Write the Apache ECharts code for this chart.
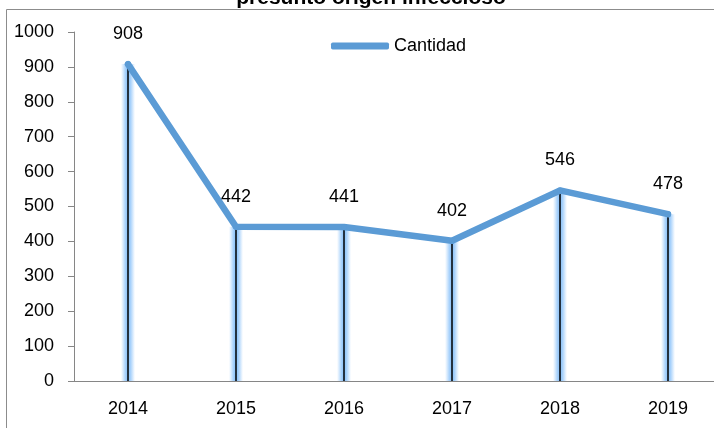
<!DOCTYPE html>
<html>
<head>
<meta charset="utf-8">
<script src="https://cdn.jsdelivr.net/npm/echarts@6/dist/echarts.min.js"></script>
<style>html,body{margin:0;padding:0;background:#fff;overflow:hidden;width:714px;height:428px}#c{width:740px;height:428px}</style>
</head>
<body>
<div id="c"></div>
<script>
const titleText = 'presunto origen infeccioso';
const seriesName = 'Cantidad';
const categories = ['2014', '2015', '2016', '2017', '2018', '2019'];
const values = [908, 442, 441, 402, 546, 478];
const yMin = 0, yMax = 1000, yInterval = 100;

const FONT = '"Liberation Sans", Arial, sans-serif';
const glow = new echarts.graphic.LinearGradient(0, 0, 1, 0, [
  {offset: 0, color: 'rgba(160,205,250,0)'},
  {offset: 0.3, color: 'rgba(150,200,250,0.8)'},
  {offset: 0.5, color: 'rgba(130,190,250,1)'},
  {offset: 0.7, color: 'rgba(150,200,250,0.8)'},
  {offset: 1, color: 'rgba(160,205,250,0)'}
]);
const chart = echarts.init(document.getElementById('c'), null, {renderer: 'canvas'});
const gridCfg = {left: 74, top: 32, right: 18, bottom: 47, containLabel: false};
chart.setOption({
  animation: false,
  backgroundColor: '#fff',
  title: {
    text: titleText, left: 366, textAlign: 'center', top: -17,
    textStyle: {fontFamily: FONT, fontSize: 21, fontWeight: 'bold', color: '#000'}
  },
  graphic: [{
    type: 'rect', silent: true, z: -1,
    shape: {x: 6.5, y: 9.5, width: 900, height: 600},
    style: {fill: null, stroke: '#8c8c8c', lineWidth: 1}
  }],
  legend: {
    data: [{name: seriesName, icon: 'roundRect'}],
    left: 326, top: 32, itemWidth: 58, itemHeight: 7, itemGap: 10,
    textStyle: {fontFamily: FONT, fontSize: 18, color: '#000'}
  },
  grid: [gridCfg, gridCfg],
  xAxis: [{
    type: 'category', data: categories, boundaryGap: true, gridIndex: 0,
    axisLine: {lineStyle: {color: '#868686', width: 1}},
    axisTick: {show: false},
    axisLabel: {fontFamily: FONT, fontSize: 18, color: '#000', margin: 19}
  }, {
    type: 'category', data: categories, boundaryGap: true, gridIndex: 1,
    axisLine: {show: false}, axisTick: {show: false}, axisLabel: {show: false}
  }],
  yAxis: [{
    type: 'value', min: yMin, max: yMax, interval: yInterval, gridIndex: 0,
    axisLine: {show: true, lineStyle: {color: '#868686', width: 1}},
    axisTick: {show: true, length: 6, lineStyle: {color: '#868686'}},
    splitLine: {show: false},
    axisLabel: {fontFamily: FONT, fontSize: 18, color: '#000', margin: 20, formatter: v => String(v)}
  }, {
    type: 'value', min: yMin, max: yMax, interval: yInterval, gridIndex: 1,
    axisLine: {show: false}, axisTick: {show: false}, splitLine: {show: false}, axisLabel: {show: false}
  }],
  series: [
    {
      type: 'bar', name: 'glow', data: values, barWidth: 14, z: 1,
      xAxisIndex: 1, yAxisIndex: 1, silent: true,
      itemStyle: {color: glow}
    },
    {
      type: 'bar', name: 'drop', data: values, barWidth: 1.5, z: 2,
      xAxisIndex: 0, yAxisIndex: 0, silent: true,
      itemStyle: {color: '#000'}
    },
    {
      type: 'line', name: seriesName, data: values, z: 3,
      xAxisIndex: 0, yAxisIndex: 0,
      symbol: 'circle', symbolSize: 6, showSymbol: true,
      itemStyle: {color: '#5B9BD5'},
      lineStyle: {color: '#5B9BD5', width: 6.5, cap: 'round', join: 'round'},
      label: {show: true, position: 'top', distance: 18, fontFamily: FONT, fontSize: 18, color: '#000'}
    }
  ]
});
</script>
</body>
</html>
